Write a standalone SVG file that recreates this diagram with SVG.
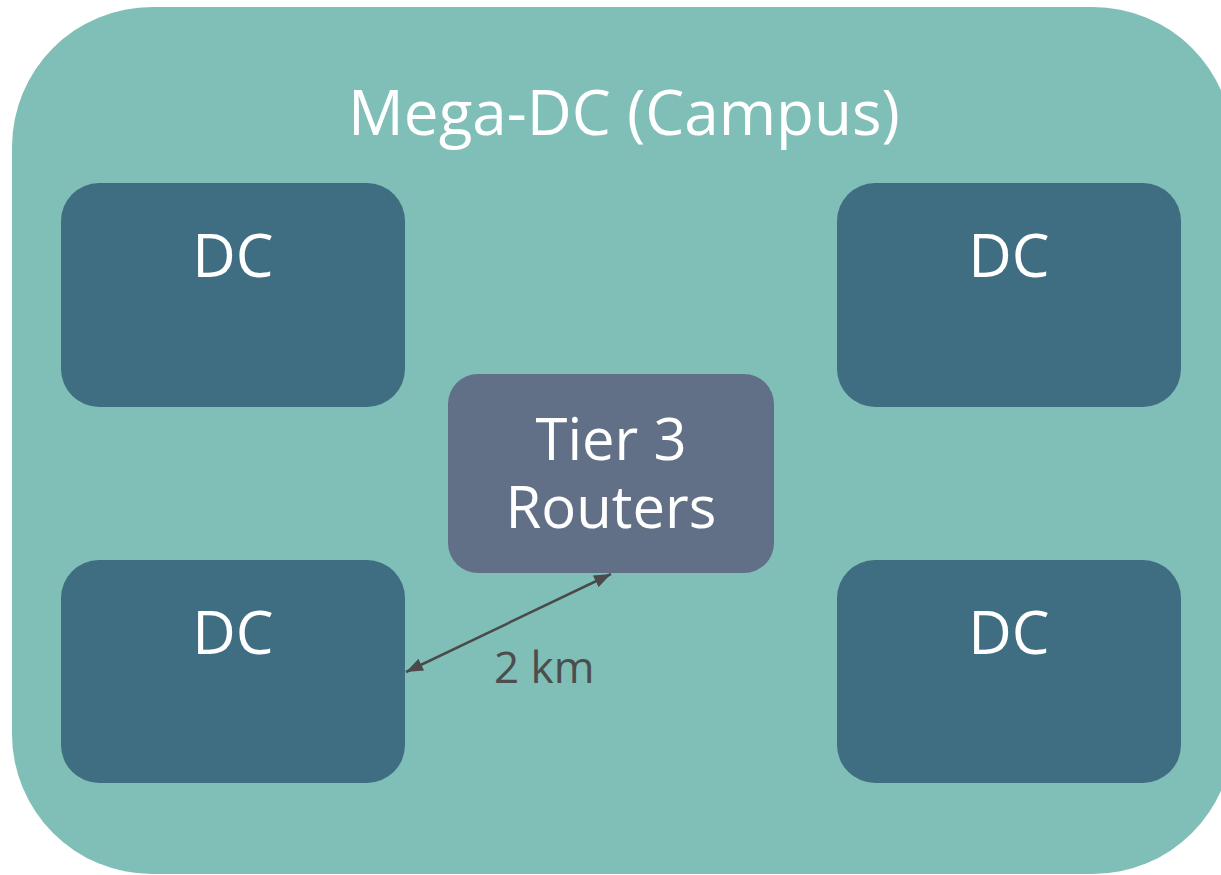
<svg xmlns="http://www.w3.org/2000/svg" width="1221" height="875" viewBox="0 0 1221 875">
  <style>
    .dc rect { fill: #3f6e82; }
    .lbl { font-family: "Open Sans", "Noto Sans", sans-serif; fill: #ffffff; text-anchor: middle; }
    .big { font-size: 60px; }
    .dist { font-family: "Open Sans", "Noto Sans", sans-serif; font-size: 44px; fill: #4d4d4d; }
  </style>
  <defs>
    <marker id="ah" viewBox="0 0 17 13" refX="17" refY="6.5" markerWidth="17" markerHeight="13" orient="auto-start-reverse" markerUnits="userSpaceOnUse">
      <path d="M0,0 L17,6.5 L0,13 z" fill="#4a4a4a"/>
    </marker>
  </defs>

  <!-- campus enclosure -->
  <g id="campus">
    <rect x="12" y="7" width="1221" height="867" rx="140" ry="140" fill="#80bfb7"/>
    <text class="lbl" x="624" y="135" font-size="62">Mega-DC (Campus)</text>
  </g>

  <g id="dc-top-left" class="dc">
    <rect x="61" y="183" width="344" height="224" rx="38"/>
    <text class="lbl big" x="233" y="277">DC</text>
  </g>
  <g id="dc-top-right" class="dc">
    <rect x="837" y="183" width="344" height="224" rx="38"/>
    <text class="lbl big" x="1009" y="277">DC</text>
  </g>
  <g id="dc-bottom-left" class="dc">
    <rect x="61" y="560" width="344" height="223" rx="38"/>
    <text class="lbl big" x="233" y="654">DC</text>
  </g>
  <g id="dc-bottom-right" class="dc">
    <rect x="837" y="560" width="344" height="223" rx="38"/>
    <text class="lbl big" x="1009" y="654">DC</text>
  </g>

  <g id="tier3">
    <rect x="448" y="374" width="326" height="199" rx="30" fill="#627087"/>
    <text class="lbl" font-size="58" x="611" y="460">Tier 3</text>
    <text class="lbl" font-size="58" x="611" y="528">Routers</text>
  </g>

  <g id="connectors">
    <line x1="406" y1="672" x2="611" y2="574" stroke="#4a4a4a" stroke-width="2.5" marker-start="url(#ah)" marker-end="url(#ah)"/>
    <text class="dist" x="494" y="683">2 km</text>
  </g>
</svg>
